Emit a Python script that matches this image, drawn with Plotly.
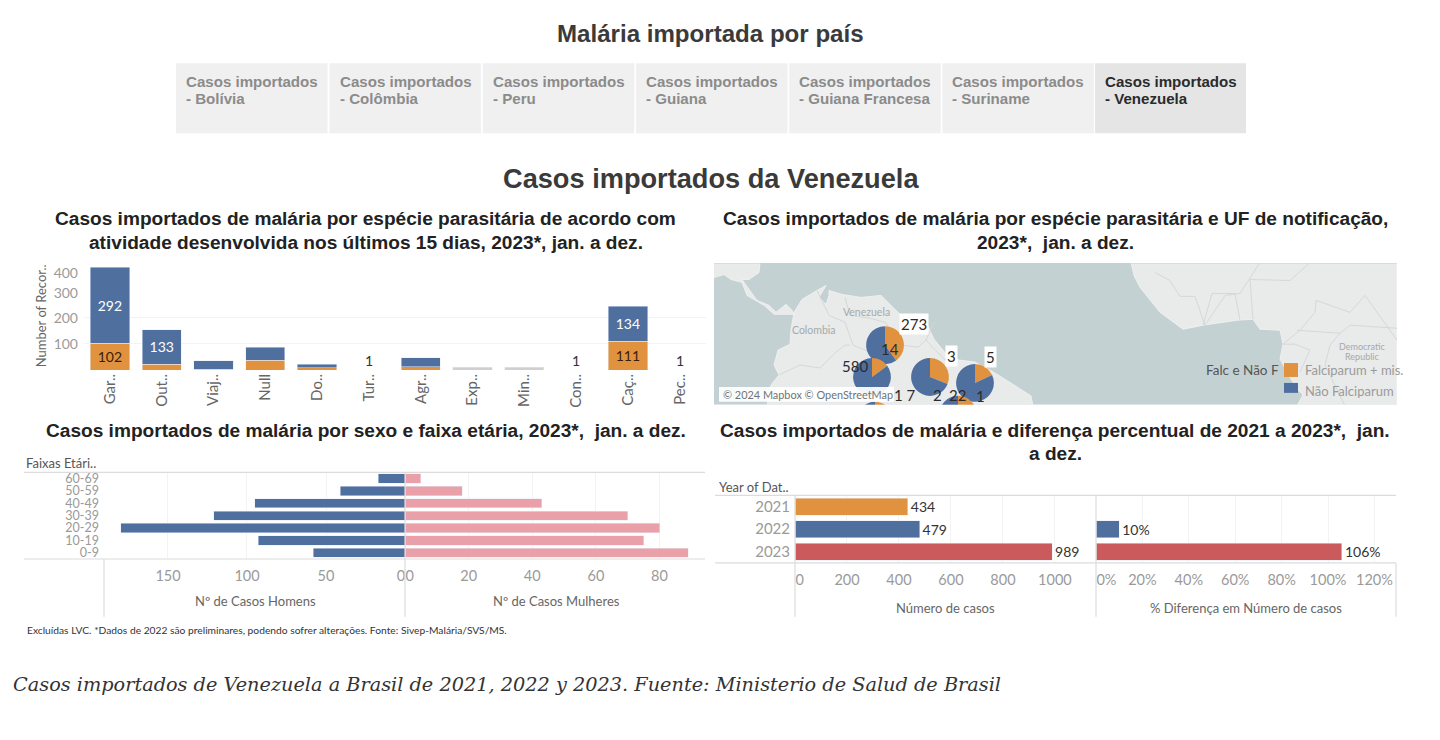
import plotly.graph_objects as go

W, H = 1440, 740

# ---------- data ----------
tabs = ["Bolívia", "Colômbia", "Peru", "Guiana", "Guiana Francesa", "Suriname", "Venezuela"]

activity = ["Gar..", "Out..", "Viaj..", "Null", "Do..", "Tur..", "Agr..", "Exp..", "Min..", "Con..", "Caç..", "Pec.."]
act_falc = [102, 22, 3, 38, 8, None, 12, None, None, None, 111, None]
act_nao = [292, 133, 32, 50, 14, None, 35, None, None, None, 134, None]
act_outros = [None, None, None, None, None, None, None, 10, 10, None, None, None]
act_falc_labels = ["102", "", "", "", "", "", "", "", "", "", "111", ""]
act_nao_labels = ["292", "133", "", "", "", "", "", "", "", "", "134", ""]
act_single = {"Tur..": "1", "Con..": "1", "Pec..": "1"}
act_ticks = [100, 200, 296, 373]
act_ticktext = ["100", "200", "300", "400"]
act_grid = [100, 200, 397]

age_groups = ["0-9", "10-19", "20-29", "30-39", "40-49", "50-59", "60-69"]
men = [58, 93, 180, 121, 95, 41, 17]
women = [89, 75, 80, 70, 43, 18, 5]

years = ["2023", "2022", "2021"]
cases = [989, 479, 434]
diff_pct = [106, 10, None]
year_colors = ["#cb5a5c", "#4f6f9f", "#e0923f"]

# map pies: falciparum share, non falciparum share, centre and diameter in page pixels
pie_falc = [40, 15, 31, 18, 25, 27]
pie_nao = [60, 85, 69, 82, 75, 73]
pie_cx = [885, 872, 930, 975, 958, 875]
pie_cy = [344, 376, 376, 382, 414, 420]
pie_d = 38
map_labels = [("273", 914, 323, True), ("14", 890, 348, False), ("580", 855, 365, False),
              ("3", 951, 355, True), ("5", 990, 356, True), ("1 7", 905, 394, False),
              ("2", 937, 394, False), ("22", 957, 394, False), ("1", 980, 395, False)]

# basemap outlines (page pixels, decorative background)
land_central = ([714, 760, 759, 749, 742, 751, 757, 769, 776, 786, 792, 794, 774, 764, 756, 747, 742, 731, 724, 714],
                [262, 262, 272, 279, 279, 292, 300, 305, 312, 304, 310, 314, 314, 305, 300, 295, 282, 279, 274, 277])
land_south = ([794, 802, 817, 826, 819, 826, 829, 829, 842, 861, 881, 891, 901, 926, 934, 947, 959, 975, 995, 1031, 1033,
               767, 771, 779, 774, 778, 790, 791, 794],
              [312, 299, 290, 285, 297, 304, 295, 290, 294, 297, 295, 305, 315, 322, 339, 355, 360, 362, 373, 396, 406,
               406, 385, 375, 365, 350, 344, 329, 312])
land_africa = ([1131, 1134, 1140, 1150, 1160, 1183, 1203, 1237, 1253, 1260, 1280, 1283, 1280, 1287, 1297, 1303, 1297,
                1397, 1397],
               [262, 275, 287, 299, 312, 329, 325, 320, 319, 329, 330, 344, 359, 372, 389, 395, 406,
                406, 262])
border_lines = [
    ([817, 829, 845, 853, 870, 878], [290, 315, 322, 345, 352, 350]),
    ([845, 850, 870, 885, 901], [297, 315, 318, 322, 345]),
    ([779, 800, 820, 836, 845, 850], [375, 365, 368, 352, 345, 345]),
    ([901, 918, 926, 934], [345, 347, 340, 322]),
    ([926, 945, 947], [340, 360, 355]),
    ([1155, 1170, 1180, 1195, 1205, 1225, 1240, 1260], [272, 280, 296, 296, 325, 295, 293, 262]),
    ([1203, 1212, 1235, 1240], [325, 293, 293, 320]),
    ([1253, 1250, 1250, 1290, 1310, 1320, 1350, 1397], [319, 280, 279, 280, 262, 262, 262, 262]),
    ([1283, 1300, 1315, 1316, 1350, 1365, 1397], [344, 330, 312, 300, 312, 295, 340]),
    ([1297, 1340, 1350, 1397], [330, 333, 325, 328]),
    ([1283, 1295, 1310, 1300], [344, 344, 350, 372]),
    ([1340, 1330, 1325, 1345], [333, 345, 365, 406]),
]

# ---------- colours ----------
ORANGE, BLUE, PINK = "#e0923f", "#4f6f9f", "#eaa0a8"
SEA, LAND, BORDER = "#c3d1d3", "#e9eaea", "#d3d6d6"
NARROW = "Lato, Liberation Sans, Arial"
SANS = "Liberation Sans, Arial"
TICK = "#9a9a9a"
LINE = "#dcdcdc"
GRID = "#f3f3f3"


def px(x):
    return x / W


def py(y):
    return 1 - y / H


def xdom(a, b):
    return [px(a), px(b)]


def ydom(top, bottom):
    return [py(bottom), py(top)]


anns, shapes = [], []


def text(s, x, y, size, color="#333333", family=SANS, anchor="center", bold=False, italic=False, va="middle",
         bg=None, align=None, pad=0, angle=0):
    if bold:
        s = f"<b>{s}</b>"
    if italic:
        s = f"<i>{s}</i>"
    anns.append(dict(text=s, x=px(x), y=py(y), xref="paper", yref="paper", xanchor=anchor, yanchor=va,
                     showarrow=False, font=dict(size=size, color=color, family=family), bgcolor=bg,
                     align=align or anchor, borderpad=pad, textangle=angle))


def rect(x0, y0, x1, y1, color, layer="below"):
    shapes.append(dict(type="rect", xref="paper", yref="paper", x0=px(x0), x1=px(x1), y0=py(y0), y1=py(y1),
                       fillcolor=color, line=dict(width=0), layer=layer))


def seg(x0, y0, x1, y1, color=LINE, width=1.2):
    shapes.append(dict(type="line", xref="paper", yref="paper", x0=px(x0), x1=px(x1), y0=py(y0), y1=py(y1),
                       line=dict(color=color, width=width), layer="above"))


fig = go.Figure()

# ---------- header and tabs ----------
text("Malária importada por país", 710.5, 30.5, 24.1, "#3a3a3a", bold=True)
tab_x = [176, 329.5, 482.8, 636, 789.2, 942.4, 1095]
for i, (name, x0) in enumerate(zip(tabs, tab_x)):
    last = i == len(tabs) - 1
    rect(x0, 60.5, x0 + (151.5 if not last else 151), 131, "#e5e5e5" if last else "#f0f0f0")
    col = "#2b2b2b" if last else "#8b8b8b"
    text("Casos importados", x0 + 9, 78.5, 15.1, col, anchor="left", bold=True)
    text(f"- {name}", x0 + 9, 96.5, 15.1, col, anchor="left", bold=True)

text("Casos importados da Venezuela", 710.5, 176, 27.2, "#3a3a3a", bold=True)
t1 = "#222222"
text("Casos importados de malária por espécie parasitária de acordo com", 365.5, 217, 19.1, t1, bold=True)
text("atividade desenvolvida nos últimos 15 dias, 2023*, jan. a dez.", 365.5, 241, 19.1, t1, bold=True)
text("Casos importados de malária por espécie parasitária e UF de notificação,", 1055, 217, 19.1, t1, bold=True)
text("2023*,  jan. a dez.", 1055, 241, 19.1, t1, bold=True)
text("Casos importados de malária por sexo e faixa etária, 2023*,  jan. a dez.", 365.5, 430, 19.1, t1, bold=True)
text("Casos importados de malária e diferença percentual de 2021 a 2023*,  jan.", 1055, 430, 19.1, t1, bold=True)
text("a dez.", 1055, 453, 19.1, t1, bold=True)

# ---------- chart 1: activity ----------
fig.add_bar(x=activity, y=act_falc, marker_color=ORANGE, text=act_falc_labels, textposition="inside",
            insidetextanchor="middle", textangle=0, textfont=dict(size=14, color="#3a1d08", family=NARROW),
            width=0.76, xaxis="x", yaxis="y", hoverinfo="skip")
fig.add_bar(x=activity, y=act_nao, marker_color=BLUE, text=act_nao_labels, textposition="inside",
            insidetextanchor="middle", textangle=0, textfont=dict(size=14, color="#ffffff", family=NARROW),
            width=0.76, xaxis="x", yaxis="y", hoverinfo="skip")
fig.add_bar(x=activity, y=act_outros, marker_color="#cfcfcf", width=0.76, xaxis="x", yaxis="y", hoverinfo="skip")
for cat, lab in act_single.items():
    anns.append(dict(text=lab, x=cat, y=38, xref="x", yref="y", showarrow=False,
                     font=dict(size=14, color="#333333", family=NARROW)))
text("Number of Recor..", 41, 315, 13, "#666666", family=NARROW, angle=-90)

# ---------- chart 2: map ----------
rect(714, 261.5, 1397, 404, SEA)
for lx, ly in (land_central, land_south, land_africa):
    fig.add_scatter(x=lx, y=ly, mode="lines", fill="toself", fillcolor=LAND, line=dict(width=0.8, color="#f4f4f4"),
                    xaxis="x2", yaxis="y2", hoverinfo="skip", showlegend=False)
for bx, by in border_lines:
    fig.add_scatter(x=bx, y=by, mode="lines", line=dict(width=0.9, color=BORDER),
                    xaxis="x2", yaxis="y2", hoverinfo="skip", showlegend=False)
for f, n, cx, cy in zip(pie_falc, pie_nao, pie_cx, pie_cy):
    r = pie_d / 2
    fig.add_pie(values=[f, n], labels=["Falciparum + mis.", "Não Falciparum"], sort=False, direction="clockwise",
                rotation=0, marker=dict(colors=[ORANGE, BLUE], line=dict(width=0)), textinfo="none",
                domain=dict(x=xdom(cx - r, cx + r), y=ydom(cy - r, cy + r)), hoverinfo="skip", showlegend=False)
rect(714, 404, 1400, 444, "#ffffff", layer="above")
rect(719, 386, 894, 401, "rgba(255,255,255,0.92)", layer="above")
text("© 2024 Mapbox © OpenStreetMap", 722, 394, 10.9, "#6f7475", family=NARROW, anchor="left")
text("Colombia", 814, 329, 10.5, "#a3aaaa", family=NARROW)
text("Venezuela", 866, 311, 10.5, "#a3aaaa", family=NARROW)
text("Democratic", 1362, 345, 9, "#a3aaaa", family=NARROW)
text("Republic", 1362, 355, 9, "#a3aaaa", family=NARROW)
for lab, x, y, boxed in map_labels:
    text(lab, x, y, 15, "#2b2b2b", family=NARROW, bg="#ffffff" if boxed else None, pad=1)
text("Falc e Não F", 1242, 369, 13.5, "#555555", family=NARROW)
rect(1284, 362, 1298, 376, ORANGE, layer="above")
rect(1284, 382, 1298, 392, BLUE, layer="above")
text("Falciparum + mis.", 1304, 369, 13, "#9a9a9a", family=NARROW, anchor="left")
text("Não Falciparum", 1304, 390, 13, "#9a9a9a", family=NARROW, anchor="left")

# ---------- chart 3: population pyramid ----------
fig.add_bar(x=men, y=age_groups, orientation="h", marker_color=BLUE, width=0.75, xaxis="x3", yaxis="y3", hoverinfo="skip")
fig.add_bar(x=women, y=age_groups, orientation="h", marker_color=PINK, width=0.75, xaxis="x4", yaxis="y4", hoverinfo="skip")
seg(24, 472, 705, 472)
seg(24, 559, 705, 559)
for x in (104, 405):
    seg(x, 559, x, 617)
seg(405, 472, 405, 559)
text("Faixas Etári..", 25, 463, 13, "#555555", family=NARROW, anchor="left")
text("Nº de Casos Homens", 255, 601, 13, "#666666", family=NARROW)
text("Nº de Casos Mulheres", 556, 601, 13, "#666666", family=NARROW)
text("Excluídas LVC. *Dados de 2022 são preliminares, podendo sofrer alterações. Fonte: Sivep-Malária/SVS/MS.",
     26, 630, 10.25, "#333333", family=NARROW, anchor="left")

# ---------- chart 4: cases per year ----------
fig.add_bar(x=cases, y=years, orientation="h", marker_color=year_colors, width=0.76, text=cases, textposition="outside",
            textfont=dict(size=14, color="#333333", family=NARROW), cliponaxis=False, xaxis="x5", yaxis="y5", hoverinfo="skip")
fig.add_bar(x=diff_pct, y=years, orientation="h", marker_color=year_colors, width=0.76,
            text=[f"{v}%" if v is not None else "" for v in diff_pct], textposition="outside",
            textfont=dict(size=14, color="#333333", family=NARROW), cliponaxis=False, xaxis="x6", yaxis="y6", hoverinfo="skip")
seg(715, 495, 1396, 495)
seg(715, 563, 1396, 563)
for x in (795, 1096, 1396):
    seg(x, 563, x, 617)
seg(795, 495, 795, 563)
seg(1096, 495, 1096, 563)
text("Year of Dat..", 718, 487, 13, "#555555", family=NARROW, anchor="left")
text("Número de casos", 945, 608, 13, "#666666", family=NARROW)
text("% Diferença em Número de casos", 1246, 608, 13, "#666666", family=NARROW)

# ---------- caption ----------
text("Casos importados de Venezuela a Brasil de 2021, 2022 y 2023. Fuente: Ministerio de Salud de Brasil",
     11.5, 685, 19.3, "#333333", family="DejaVu Serif, Liberation Serif", anchor="left", italic=True)

tick_font = dict(size=14.5, color=TICK, family=NARROW)
off = dict(visible=False, fixedrange=True)


def cat_axis(dom, anchor, order, size=15, labels=True):
    return dict(domain=dom, anchor=anchor, showline=False, showgrid=False, zeroline=False, ticks="", fixedrange=True,
                type="category", showticklabels=labels, tickfont=dict(size=size, color=TICK, family=NARROW),
                ticklabelstandoff=4, categoryorder="array", categoryarray=order, tickmode="array", tickvals=order,
                ticktext=order)


def value_axis(dom, anchor, rng, vals, texts, grid):
    return dict(domain=dom, anchor=anchor, range=rng, tickmode="array", tickvals=vals, ticktext=texts,
                showgrid=False, zeroline=False, showline=False, ticks="", fixedrange=True, tickfont=tick_font,
                ticklabelstandoff=7, minor=dict(showgrid=True, tickmode="array", tickvals=grid, gridcolor=GRID, gridwidth=1, ticks=""))


fig.update_layout(
    width=W, height=H, margin=dict(l=0, r=0, t=0, b=0), autosize=False, showlegend=False,
    paper_bgcolor="#ffffff", plot_bgcolor="rgba(0,0,0,0)", barmode="stack", bargap=0.24,
    annotations=anns, shapes=shapes,
    xaxis=dict(domain=xdom(84, 705.6), anchor="y", type="category", categoryorder="array", categoryarray=activity,
               range=[-0.5, 11.5], tickangle=-90, ticks="", showline=False, showgrid=False, fixedrange=True,
               tickmode="array", tickvals=activity, ticktext=activity,
               tickfont=dict(size=15, color="#666666", family=NARROW), ticklabelstandoff=0),
    yaxis=dict(domain=ydom(265, 369), anchor="x", range=[0, 397], tickmode="array", tickvals=act_ticks,
               ticktext=act_ticktext, showgrid=False, zeroline=False, ticks="", fixedrange=True,
               tickfont=dict(size=14, color=TICK, family=NARROW), ticklabelstandoff=5,
               minor=dict(showgrid=True, tickmode="array", tickvals=act_grid, gridcolor=GRID, ticks="")),
    xaxis2=dict(domain=xdom(714, 1397), anchor="y2", range=[714, 1397], **off),
    yaxis2=dict(domain=ydom(262, 404), anchor="x2", range=[405, 263], **off),
    xaxis3=value_axis(xdom(104, 405), "y3", [190.5, 0], [150, 100, 50, 2.5], ["150", "100", "50", "0"], [150, 100, 50]),
    yaxis3=cat_axis(ydom(472, 559), "x3", age_groups, size=12.5),
    xaxis4=value_axis(xdom(405, 705), "y4", [0, 94.3], [1.5, 20, 40, 60, 80], ["0", "20", "40", "60", "80"], [20, 40, 60, 80]),
    yaxis4=cat_axis(ydom(472, 559), "x4", age_groups, labels=False),
    xaxis5=value_axis(xdom(795, 1096), "y5", [0, 1158], [18, 200, 400, 600, 800, 1000], ["0", "200", "400", "600", "800", "1000"], [200, 400, 600, 800, 1000]),
    yaxis5=cat_axis(ydom(495, 563), "x5", years),
    xaxis6=value_axis(xdom(1096, 1396), "y6", [0, 129.3], [4.5, 20, 40, 60, 80, 100, 120], ["0%", "20%", "40%", "60%", "80%", "100%", "120%"], [20, 40, 60, 80, 100, 120]),
    yaxis6=cat_axis(ydom(495, 563), "x6", years, labels=False),
)

fig.write_html("out.html", config={"displayModeBar": False},
               post_script="document.body.style.margin='0';document.body.style.overflow='hidden';")
